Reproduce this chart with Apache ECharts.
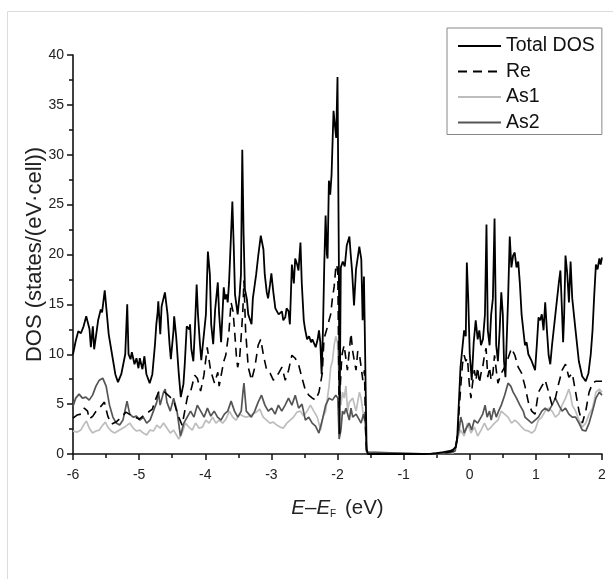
<!DOCTYPE html>
<html><head><meta charset="utf-8">
<script src="https://cdn.jsdelivr.net/npm/echarts@6/dist/echarts.min.js"></script>
<style>html,body{margin:0;padding:0;background:#fff}#c{width:613px;height:579px}</style>
</head><body><div id="c"></div>
<script>
const xTicks = [-6, -5, -4, -3, -2, -1, 0, 1, 2];
const seriesNames = ['Total DOS', 'Re', 'As1', 'As2'];

const totalX = [-6.00,-5.96,-5.92,-5.88,-5.84,-5.80,-5.77,-5.75,-5.73,-5.70,-5.68,-5.62,-5.58,-5.56,-5.52,-5.46,-5.41,-5.36,-5.32,-5.27,-5.24,-5.21,-5.18,-5.16,-5.13,-5.11,-5.07,-5.04,-5.01,-4.99,-4.95,-4.92,-4.89,-4.84,-4.80,-4.76,-4.74,-4.72,-4.71,-4.68,-4.66,-4.61,-4.57,-4.54,-4.52,-4.48,-4.47,-4.44,-4.40,-4.37,-4.33,-4.31,-4.28,-4.24,-4.23,-4.21,-4.18,-4.16,-4.13,-4.11,-4.08,-4.06,-4.03,-3.99,-3.96,-3.93,-3.91,-3.88,-3.85,-3.81,-3.79,-3.76,-3.74,-3.72,-3.70,-3.68,-3.66,-3.64,-3.61,-3.59,-3.57,-3.55,-3.51,-3.48,-3.46,-3.44,-3.42,-3.40,-3.37,-3.35,-3.30,-3.28,-3.23,-3.20,-3.16,-3.12,-3.10,-3.07,-3.05,-3.02,-3.00,-2.97,-2.94,-2.89,-2.84,-2.82,-2.79,-2.77,-2.74,-2.72,-2.69,-2.66,-2.64,-2.61,-2.59,-2.56,-2.54,-2.51,-2.49,-2.46,-2.43,-2.40,-2.38,-2.33,-2.30,-2.28,-2.26,-2.24,-2.22,-2.20,-2.18,-2.16,-2.15,-2.13,-2.11,-2.09,-2.06,-2.04,-2.02,-2.00,-1.98,-1.97,-1.95,-1.92,-1.89,-1.86,-1.82,-1.80,-1.78,-1.75,-1.72,-1.67,-1.64,-1.62,-1.60,-1.575,-1.56,-1.54,-0.70,-0.60,-0.50,-0.40,-0.30,-0.25,-0.21,-0.19,-0.14,-0.085,-0.06,-0.044,-0.023,0.00,0.03,0.06,0.09,0.12,0.145,0.17,0.20,0.23,0.253,0.273,0.30,0.324,0.35,0.375,0.40,0.426,0.452,0.477,0.50,0.518,0.54,0.58,0.605,0.63,0.656,0.68,0.707,0.733,0.758,0.784,0.835,0.86,0.886,0.937,0.988,1.014,1.04,1.065,1.09,1.116,1.141,1.167,1.193,1.218,1.244,1.295,1.346,1.371,1.397,1.412,1.428,1.448,1.474,1.50,1.525,1.55,1.60,1.65,1.70,1.754,1.795,1.83,1.857,1.88,1.908,1.933,1.96,1.98,2.00];
const totalY = [10.0,11.3,12.3,12.1,12.8,13.8,13.6,12.5,10.7,12.8,10.5,13.4,14.5,14.2,16.4,12.0,10.0,8.0,7.2,8.0,9.0,10.0,15.0,10.0,9.5,10.2,9.0,9.6,8.6,9.6,8.5,9.8,8.0,7.1,8.0,11.0,13.0,14.2,15.3,12.0,14.8,16.2,14.0,11.0,9.5,12.4,13.8,11.8,8.0,5.7,7.0,9.0,12.8,12.5,13.0,10.5,9.3,12.0,17.0,14.0,11.0,9.4,9.2,14.0,20.3,18.0,13.0,11.0,14.5,17.2,14.0,11.2,14.0,16.7,15.5,16.0,15.2,17.2,22.0,25.3,21.0,16.0,14.0,16.0,18.0,30.5,22.0,16.5,15.5,14.0,13.0,15.6,18.0,19.8,21.9,20.5,18.0,16.2,15.6,17.0,18.1,16.2,14.6,14.0,14.3,13.4,13.7,14.6,14.3,13.0,19.0,17.1,19.6,19.0,18.4,21.2,17.1,13.4,12.5,11.5,11.8,11.2,11.5,10.7,11.5,12.4,11.2,8.0,12.4,19.0,23.9,20.0,19.6,27.4,26.0,28.0,34.4,33.0,31.7,37.8,20.0,2.0,18.7,19.3,18.8,20.9,21.8,20.0,18.4,14.9,18.5,20.8,19.5,13.4,17.8,18.0,0.5,0.0,0.0,0.02,0.08,0.18,0.30,0.45,0.7,1.5,8.7,12.4,11.8,19.2,15.6,10.0,7.4,11.2,13.4,11.5,12.4,10.9,11.5,14.0,23.0,12.4,10.9,14.0,15.6,23.6,10.9,9.3,12.4,16.2,14.0,9.3,7.7,15.6,21.8,18.7,19.9,20.2,18.7,19.3,17.1,14.0,10.9,11.2,10.0,9.3,8.4,10.9,13.7,13.4,14.0,12.4,15.2,12.4,9.9,9.0,10.9,14.0,17.1,18.4,14.0,11.2,14.0,19.9,18.1,15.2,19.3,15.6,12.4,9.3,7.8,7.3,8.1,10.0,12.4,15.6,19.0,18.5,19.6,19.0,19.7];

const reX = [-6.00,-5.94,-5.88,-5.83,-5.78,-5.755,-5.70,-5.65,-5.60,-5.525,-5.474,-5.42,-5.35,-5.28,-5.20,-5.10,-5.00,-4.90,-4.80,-4.75,-4.70,-4.63,-4.58,-4.48,-4.42,-4.35,-4.27,-4.22,-4.16,-4.12,-4.07,-4.02,-3.97,-3.92,-3.86,-3.81,-3.79,-3.76,-3.72,-3.69,-3.64,-3.61,-3.58,-3.56,-3.53,-3.51,-3.48,-3.45,-3.43,-3.415,-3.39,-3.35,-3.30,-3.25,-3.20,-3.16,-3.12,-3.07,-3.02,-2.97,-2.89,-2.84,-2.79,-2.74,-2.69,-2.64,-2.59,-2.54,-2.49,-2.435,-2.38,-2.33,-2.28,-2.23,-2.205,-2.18,-2.154,-2.128,-2.103,-2.077,-2.05,-2.026,-2.011,-1.995,-1.975,-1.934,-1.90,-1.85,-1.796,-1.77,-1.745,-1.72,-1.694,-1.668,-1.617,-1.592,-1.576,-1.56,-1.54,-0.70,-0.60,-0.40,-0.30,-0.22,-0.187,-0.136,-0.11,-0.085,-0.059,-0.034,-0.008,0.018,0.043,0.069,0.094,0.12,0.145,0.171,0.196,0.222,0.247,0.273,0.299,0.324,0.35,0.375,0.401,0.426,0.477,0.528,0.579,0.631,0.682,0.733,0.784,0.835,0.886,0.937,0.988,1.039,1.09,1.141,1.193,1.244,1.295,1.346,1.397,1.448,1.499,1.55,1.601,1.652,1.703,1.754,1.805,1.857,1.908,2.00];
const reY = [3.6,3.9,4.0,4.6,4.3,3.5,3.8,4.3,4.6,5.2,3.8,3.0,3.2,3.6,4.2,3.8,3.5,4.0,4.5,5.5,6.3,6.3,6.0,5.4,4.0,2.9,5.7,6.3,7.9,7.6,6.3,7.9,10.7,8.4,7.1,8.2,6.8,6.6,9.3,9.9,12.4,15.2,14.3,12.7,9.9,8.7,9.6,12.4,14.6,17.4,12.4,8.7,7.4,8.7,10.9,11.5,9.9,8.4,8.1,7.4,8.1,8.7,7.4,8.4,9.9,9.6,9.0,7.7,6.5,5.9,5.6,5.4,6.2,8.1,11.5,12.1,12.7,13.4,14.0,15.6,16.8,18.7,19.0,18.1,4.6,9.9,10.9,8.4,12.1,10.3,9.3,8.4,10.3,10.0,7.4,8.4,2.4,0.3,0.0,0.0,0.01,0.1,0.2,0.4,1.8,6.8,9.0,9.9,9.3,9.6,7.1,5.6,7.1,8.4,7.4,8.7,7.1,8.1,8.7,9.9,10.6,7.7,8.7,7.4,8.1,9.9,8.4,7.1,8.1,8.7,9.6,10.6,9.9,8.7,8.1,6.8,5.2,4.3,4.0,6.2,6.8,7.4,6.2,4.9,5.6,7.1,8.4,9.0,7.7,8.1,6.2,4.3,3.1,4.3,6.2,7.1,7.3,7.3];

const as1X = [-6.00,-5.934,-5.883,-5.831,-5.796,-5.755,-5.704,-5.653,-5.602,-5.55,-5.51,-5.474,-5.423,-5.372,-5.295,-5.218,-5.142,-5.091,-5.04,-4.989,-4.937,-4.886,-4.835,-4.784,-4.733,-4.682,-4.631,-4.58,-4.529,-4.478,-4.401,-4.35,-4.299,-4.248,-4.197,-4.146,-4.095,-4.043,-3.992,-3.941,-3.89,-3.839,-3.788,-3.737,-3.686,-3.635,-3.584,-3.533,-3.481,-3.43,-3.379,-3.328,-3.277,-3.226,-3.175,-3.124,-3.073,-3.022,-2.97,-2.919,-2.868,-2.817,-2.766,-2.715,-2.664,-2.613,-2.562,-2.511,-2.46,-2.409,-2.358,-2.306,-2.256,-2.22,-2.179,-2.128,-2.103,-2.077,-2.051,-2.026,-2.00,-1.975,-1.949,-1.924,-1.898,-1.873,-1.847,-1.822,-1.77,-1.719,-1.668,-1.643,-1.617,-1.576,-1.56,-1.54,-0.60,-0.25,-0.187,-0.136,-0.085,-0.034,0.018,0.069,0.12,0.171,0.222,0.273,0.324,0.375,0.426,0.477,0.528,0.579,0.631,0.682,0.733,0.784,0.835,0.886,0.937,0.988,1.039,1.09,1.141,1.193,1.244,1.295,1.346,1.397,1.448,1.499,1.525,1.55,1.601,1.652,1.703,1.754,1.805,1.857,1.908,1.959,2.00];
const as1Y = [2.3,2.2,2.4,3.0,3.3,2.6,2.1,2.3,2.4,2.9,3.2,2.7,2.3,2.1,2.4,2.7,3.1,2.6,2.3,2.4,2.1,1.9,2.4,2.3,2.9,2.6,3.1,2.6,2.1,2.4,1.5,2.1,3.1,2.7,2.4,3.1,2.6,2.7,3.4,3.1,3.7,3.1,3.4,3.1,3.5,4.3,3.7,3.4,4.0,3.8,3.7,3.8,4.0,4.2,4.5,3.7,3.4,3.1,3.2,2.9,2.7,2.6,3.1,3.4,3.7,4.2,4.3,3.8,4.3,4.9,4.3,3.7,2.4,3.7,4.3,6.8,8.7,9.3,10.9,11.8,11.2,7.1,4.9,6.2,5.6,6.8,4.3,5.2,5.6,4.3,6.2,5.6,4.3,2.7,0.2,0.0,0.0,0.1,1.5,2.4,1.8,3.1,2.1,2.7,1.8,2.4,3.1,2.4,2.7,3.1,3.4,4.3,4.0,3.7,3.1,3.4,3.1,2.7,2.4,2.3,2.1,2.4,3.4,3.7,4.3,4.6,4.3,3.7,4.0,4.9,5.6,6.5,5.9,4.9,4.3,3.4,2.7,3.1,4.0,4.6,6.2,6.5,6.2];

const as2X = [-6.00,-5.959,-5.908,-5.857,-5.806,-5.755,-5.704,-5.653,-5.602,-5.55,-5.499,-5.448,-5.397,-5.346,-5.295,-5.244,-5.183,-5.142,-5.091,-5.04,-4.989,-4.937,-4.886,-4.835,-4.784,-4.733,-4.708,-4.682,-4.631,-4.605,-4.58,-4.529,-4.478,-4.427,-4.375,-4.324,-4.273,-4.222,-4.171,-4.12,-4.069,-4.018,-3.967,-3.916,-3.865,-3.814,-3.762,-3.711,-3.66,-3.609,-3.558,-3.507,-3.456,-3.43,-3.415,-3.379,-3.303,-3.252,-3.20,-3.149,-3.098,-3.047,-2.996,-2.944,-2.894,-2.843,-2.792,-2.741,-2.69,-2.639,-2.588,-2.537,-2.486,-2.435,-2.383,-2.332,-2.281,-2.23,-2.179,-2.128,-2.077,-2.026,-1.995,-1.975,-1.949,-1.924,-1.898,-1.873,-1.847,-1.822,-1.796,-1.77,-1.719,-1.668,-1.643,-1.607,-1.576,-1.56,-1.54,-0.60,-0.30,-0.22,-0.187,-0.161,-0.136,-0.11,-0.085,-0.044,-0.008,0.028,0.069,0.12,0.171,0.196,0.232,0.263,0.299,0.324,0.365,0.401,0.436,0.477,0.528,0.579,0.62,0.656,0.707,0.758,0.809,0.835,0.886,0.937,0.988,1.039,1.09,1.141,1.193,1.244,1.295,1.346,1.397,1.448,1.499,1.55,1.601,1.652,1.703,1.754,1.805,1.857,1.908,1.959,2.00];
const as2Y = [4.8,5.6,6.0,5.6,5.7,5.4,5.9,6.8,7.4,7.6,6.8,4.9,3.7,3.1,2.9,3.4,5.3,4.0,3.7,3.8,3.4,3.7,3.1,3.4,4.3,5.2,6.2,4.9,6.2,6.5,5.2,4.3,5.6,4.3,1.8,3.1,3.7,4.3,3.7,4.9,4.3,3.7,4.6,3.8,4.3,3.7,3.4,4.0,4.3,5.3,4.3,3.7,4.3,6.2,7.1,4.3,3.7,4.3,5.2,5.9,4.9,4.3,4.6,4.0,4.9,4.3,4.9,5.6,4.9,5.9,4.6,5.0,3.4,3.7,3.1,2.8,2.1,3.4,4.9,5.6,5.4,5.9,5.6,1.5,2.4,4.3,4.0,4.6,4.0,3.4,4.6,3.7,4.0,3.4,3.1,4.0,3.1,0.2,0.0,0.0,0.1,0.3,1.8,2.4,3.7,3.1,2.1,2.7,3.1,2.4,3.4,3.1,3.7,4.0,4.9,3.7,4.3,3.4,4.6,3.7,4.3,4.9,5.9,7.1,6.8,6.2,5.6,4.9,4.3,3.7,3.4,3.1,3.4,3.7,4.3,4.6,4.3,4.9,5.6,4.9,4.3,4.6,4.0,3.7,3.7,3.1,2.4,2.3,3.1,4.3,5.6,6.2,5.9];

function zip(xs, ys) { return xs.map((x, i) => [x, ys[i]]); }

const FONT = '"Liberation Sans", Arial, sans-serif';
const chart = echarts.init(document.getElementById('c'), null, {renderer: 'canvas'});
chart.setOption({
  animation: false,
  backgroundColor: '#fff',
  textStyle: {fontFamily: FONT},
  graphic: [{
    type: 'rect', silent: true, z: -1,
    shape: {x: 7.5, y: 11.5, width: 700, height: 700},
    style: {fill: 'none', stroke: '#dcdcdc', lineWidth: 1}
  }],
  grid: {left: 73, right: 11, top: 55, bottom: 125},
  legend: {
    data: seriesNames,
    orient: 'vertical',
    left: 447, top: 28,
    padding: [8, 7, 2, 10],
    itemWidth: 43, itemHeight: 18, itemGap: 5.5,
    itemStyle: {opacity: 0},
    borderColor: '#888', borderWidth: 1, borderRadius: 0,
    textStyle: {fontFamily: FONT, fontSize: 19.5, color: '#111', lineHeight: 20}
  },
  xAxis: {
    type: 'value', min: -6, max: 2, interval: 1,
    axisLine: {show: true, onZero: false, lineStyle: {color: '#111', width: 1.6}},
    axisTick: {show: true, length: 6, lineStyle: {color: '#111', width: 1.5}},
    minorTick: {show: true, splitNumber: 2, length: 4, lineStyle: {color: '#111', width: 1.5}},
    splitLine: {show: false},
    axisLabel: {fontFamily: FONT, fontSize: 14, color: '#222', margin: 14,
      formatter: v => (v < 0 ? '-' + Math.abs(v) : String(v))},
    name: '{i|E}{n|–}{i|E}{sub|F}{n| (eV)}',
    nameLocation: 'middle', nameGap: 43,
    nameTextStyle: {
      fontFamily: FONT, fontSize: 20, color: '#222',
      rich: {
        i: {fontFamily: FONT, fontSize: 20.5, fontStyle: 'italic', color: '#222'},
        n: {fontFamily: FONT, fontSize: 20.5, color: '#222'},
        sub: {fontFamily: FONT, fontSize: 10, color: '#222', padding: [12, 3, 0, 0]}
      }
    }
  },
  yAxis: {
    type: 'value', min: 0, max: 40, interval: 5,
    axisLine: {show: true, onZero: false, lineStyle: {color: '#111', width: 1.6}},
    axisTick: {show: true, length: 6, lineStyle: {color: '#111', width: 1.5}},
    minorTick: {show: true, splitNumber: 2, length: 4, lineStyle: {color: '#111', width: 1.5}},
    splitLine: {show: false},
    axisLabel: {fontFamily: FONT, fontSize: 14, color: '#222', margin: 9},
    name: 'DOS (states/(eV·cell))',
    nameLocation: 'middle', nameGap: 27, nameRotate: 90,
    nameMoveOverlap: false,
    nameTextStyle: {fontFamily: FONT, fontSize: 22, color: '#222'}
  },
  series: [
    {name: 'As1', type: 'line', symbol: 'none', data: zip(as1X, as1Y),
      lineStyle: {color: '#bdbdbd', width: 1.7}, itemStyle: {color: '#bdbdbd'}},
    {name: 'As2', type: 'line', symbol: 'none', data: zip(as2X, as2Y),
      lineStyle: {color: '#555', width: 1.7}, itemStyle: {color: '#555'}},
    {name: 'Re', type: 'line', symbol: 'none', data: zip(reX, reY),
      lineStyle: {color: '#000', width: 1.6, type: [9, 6]}, itemStyle: {color: '#000'}},
    {name: 'Total DOS', type: 'line', symbol: 'none', data: zip(totalX, totalY),
      lineStyle: {color: '#000', width: 1.8}, itemStyle: {color: '#000'}}
  ]
});
</script>
</body></html>
